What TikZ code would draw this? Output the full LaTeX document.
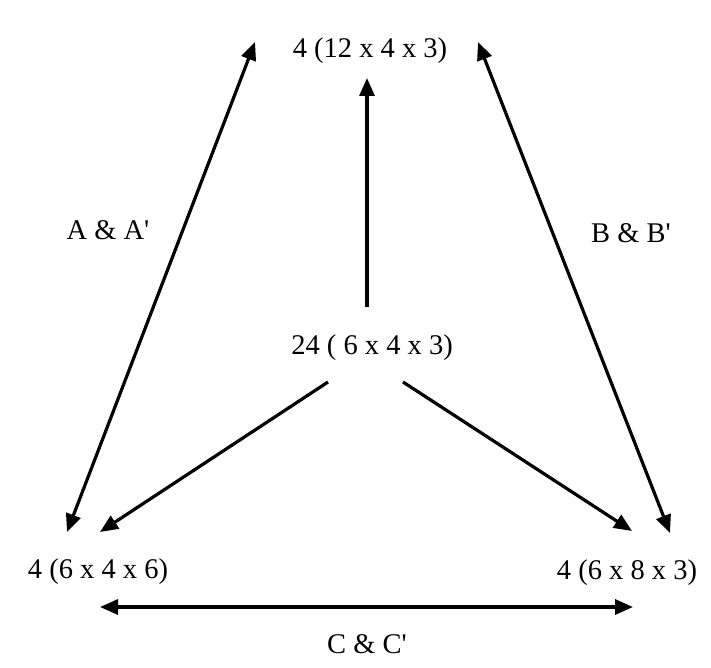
\documentclass[tikz,border=0pt]{standalone}
\usepackage{fontspec}
\setmainfont{Liberation Serif}
\usetikzlibrary{arrows.meta}
\begin{document}
\begin{tikzpicture}[x=1pt,y=-1pt,
  lbl/.style={anchor=base,inner sep=0pt,font=\fontsize{28.5}{32}\selectfont},
  tip/.tip={Triangle[length=18pt,width=15pt]},
  conn/.style={line width=3.2pt,-tip},
  dconn/.style={line width=3.2pt,tip-tip}]
\useasboundingbox[fill=white] (0,0) rectangle (711,668);
% text nodes
\node[lbl] (top) at (370,58) {4 (12 x 4 x 3)};
\node[lbl] (mid) at (372,354) {24 ( 6 x 4 x 3)};
\node[lbl] (bl) at (98,578) {4 (6 x 4 x 6)};
\node[lbl] (br) at (627,579) {4 (6 x 8 x 3)};
\node[lbl] (aa) at (108,240) {A \& A\textquotesingle};
\node[lbl] (bb) at (631,242) {B \& B\textquotesingle};
\node[lbl] (cc) at (367,653) {C \& C\textquotesingle};
% connector ends
\coordinate (lTop) at (255,42);
\coordinate (lBot) at (67,532);
\coordinate (rTop) at (478,42);
\coordinate (rBot) at (670,533);
\coordinate (vBot) at (367,307);
\coordinate (vTop) at (367,78);
\coordinate (mL) at (328,382);
\coordinate (mR) at (403,382);
\coordinate (blTip) at (100,532);
\coordinate (brTip) at (632,531);
\coordinate (hL) at (100,607);
\coordinate (hR) at (633,607);
% connectors
\draw[dconn] (lBot) -- (lTop);
\draw[dconn] (rBot) -- (rTop);
\draw[conn] (vBot) -- (vTop);
\draw[conn] (mL) -- (blTip);
\draw[conn] (mR) -- (brTip);
\draw[dconn] (hL) -- (hR);
\end{tikzpicture}
\end{document}
